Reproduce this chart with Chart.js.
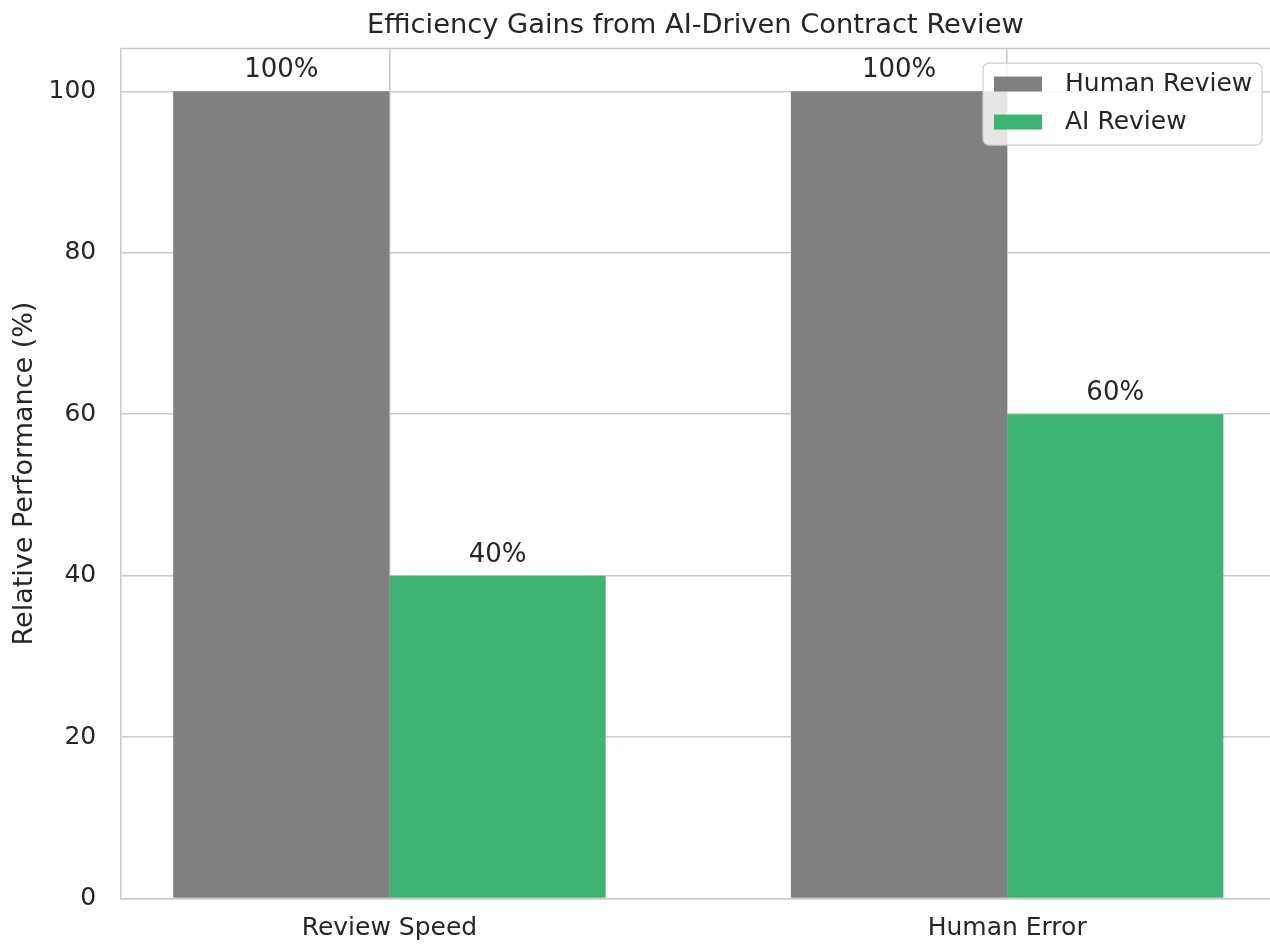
<!DOCTYPE html>
<html><head><meta charset="utf-8">
<script src="https://cdn.jsdelivr.net/npm/chart.js@4"></script>
<style>html,body{margin:0;padding:0;overflow:hidden;background:#fff}</style>
</head><body>
<canvas id="c" width="1270" height="944" style="width:1270px;height:944px;display:block"></canvas>
<script>
const categories = ['Review Speed', 'Human Error'];
const humanReview = [100, 100];
const aiReview = [40, 60];
const seriesNames = ['Human Review', 'AI Review'];
const seriesColors = ['#808080', '#3cb371'];
const yTicks = [0, 20, 40, 60, 80, 100];
const yMax = 105.3;
const xMin = -0.435, xMax = 1.4255;

const FONT = "'DejaVu Sans', sans-serif";
const TXT = '#262626';
const GRID = '#cccccc';

const toPts = arr => arr.map((v, i) => ({x: i, y: v}));

const frame = {
  id: 'frame',
  afterDraw(chart) {
    const {ctx, chartArea: a} = chart;
    ctx.save();
    ctx.strokeStyle = GRID; ctx.lineWidth = 1.6;
    ctx.beginPath();
    ctx.moveTo(a.left, a.top); ctx.lineTo(a.right, a.top);
    ctx.stroke();
    ctx.restore();
  }
};

const barLabels = {
  id: 'barLabels',
  afterDatasetsDraw(chart) {
    const ctx = chart.ctx;
    ctx.save();
    ctx.font = '26px ' + FONT;
    ctx.fillStyle = TXT;
    ctx.textAlign = 'center';
    ctx.textBaseline = 'alphabetic';
    chart.data.datasets.forEach((ds, di) => {
      chart.getDatasetMeta(di).data.forEach((el, i) => {
        ctx.fillText(ds.data[i].y + '%', el.x, el.y - 14);
      });
    });
    ctx.restore();
  }
};

const boxLegend = {
  id: 'boxLegend',
  afterDraw(chart) {
    const {ctx, chartArea: a} = chart;
    const right = a.right - 8, top = a.top + 14.5;
    const w = 279, h = 82;
    const left = right - w;
    ctx.save();
    ctx.beginPath();
    ctx.roundRect(left, top, w, h, 6);
    ctx.fillStyle = 'rgba(255,255,255,0.8)';
    ctx.fill();
    ctx.strokeStyle = GRID; ctx.lineWidth = 1.2;
    ctx.stroke();
    ctx.font = '25px ' + FONT;
    ctx.textBaseline = 'middle';
    ctx.textAlign = 'left';
    chart.data.datasets.forEach((ds, i) => {
      const cy = top + 21 + i * 38;
      ctx.fillStyle = ds.backgroundColor;
      ctx.fillRect(left + 11, cy - 7.5, 48, 15);
      ctx.fillStyle = TXT;
      ctx.fillText(ds.label, left + 82, cy);
    });
    ctx.restore();
  }
};

new Chart(document.getElementById('c'), {
  type: 'bar',
  data: {
    datasets: [
      {label: seriesNames[0], data: toPts(humanReview), backgroundColor: seriesColors[0]},
      {label: seriesNames[1], data: toPts(aiReview), backgroundColor: seriesColors[1]}
    ]
  },
  options: {
    responsive: false,
    animation: false,
    devicePixelRatio: 1,
    categoryPercentage: 0.7,
    barPercentage: 1.0,
    layout: {padding: {left: 0, right: 0, top: 0, bottom: 0}},
    plugins: {
      legend: {display: false},
      tooltip: {enabled: false},
      title: {
        display: true,
        text: 'Efficiency Gains from AI-Driven Contract Review',
        fullSize: false,
        color: TXT,
        font: {family: FONT, size: 27.3, weight: 'normal'},
        padding: {top: 9.5, bottom: 6.3}
      }
    },
    scales: {
      x: {
        type: 'linear',
        min: xMin, max: xMax,
        offset: false,
        afterBuildTicks: s => { s.ticks = categories.map((_, i) => ({value: i})); },
        afterFit: s => { s.height = 45.5; },
        ticks: {
          callback: v => categories[v],
          color: TXT,
          font: {family: FONT, size: 25},
          padding: 15,
          maxRotation: 0
        },
        grid: {color: GRID, lineWidth: 1.6, drawTicks: false, offset: false},
        border: {display: true, color: GRID, width: 1.6}
      },
      y: {
        min: 0, max: yMax,
        afterBuildTicks: s => { s.ticks = yTicks.map(v => ({value: v})); },
        afterFit: s => { s.width = 120.7; },
        ticks: {
          color: TXT,
          font: {family: FONT, size: 25},
          padding: 24.5
        },
        grid: {color: GRID, lineWidth: 1.6, drawTicks: false},
        border: {display: true, color: GRID, width: 1.6},
        title: {
          display: true,
          text: 'Relative Performance (%)',
          color: TXT,
          font: {family: FONT, size: 27},
          padding: {top: 8.8, bottom: 0}
        }
      }
    }
  },
  plugins: [frame, barLabels, boxLegend]
});
</script>
</body></html>
